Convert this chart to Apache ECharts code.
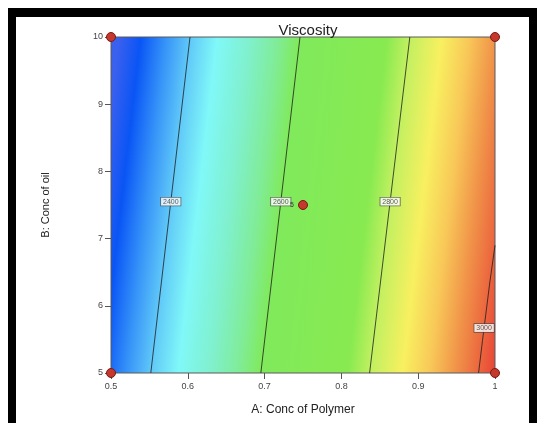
<!DOCTYPE html>
<html>
<head>
<meta charset="utf-8">
<script src="https://cdn.jsdelivr.net/npm/echarts@6/dist/echarts.min.js"></script>
<style>
  html, body { margin: 0; padding: 0; background: #fff; }
  #chart { width: 537px; height: 423px; }
</style>
</head>
<body>
<div id="chart"></div>
<script>
const levels = [2400, 2600, 2800, 3000]
const contourA = [
  [0.5518, 0.6029],
  [0.6951, 0.7461],
  [0.8367, 0.8891],
  [0.9786, 0.9837, 0.9935, 1.0],
]
const contourB = [
  [5, 10],
  [5, 10],
  [5, 10],
  [5, 5.48, 6.37, 6.9],
]
// B value where each contour label sits
const labelB = [7.55, 7.55, 7.55, 5.67]

// design points (corners + centre)
const designA = [0.5, 0.5, 1, 1, 0.75]
const designB = [5, 10, 5, 10, 7.5]
const centerReps = '5'

// colour ramp keyed by response value
const rampValues = [2270, 2310, 2355, 2400, 2450, 2510, 2560, 2600, 2760, 2800, 2860, 2910, 2960, 3030]
const rampColors = ['#3a60ee', '#0a55f5', '#3592f8', '#60c8f8', '#80f8f8', '#80f0cc', '#80ec98',
  '#80ea5c', '#88ea50', '#c0f060', '#f8f060', '#f8c858', '#f09048', '#e84436']

const FONT = 'Liberation Sans, Arial, sans-serif'

// A position on a contour for a given B (walk its polyline)
const aOnContour = (i, b) => {
  const as = contourA[i], bs = contourB[i]
  for (let k = 0; k < bs.length - 1; k++) {
    if (b >= bs[k] && b <= bs[k + 1]) {
      const t = (b - bs[k]) / (bs[k + 1] - bs[k])
      return as[k] + t * (as[k + 1] - as[k])
    }
  }
  return as[as.length - 1]
}

// background field: plot rect filled with a gradient running normal to the contours
const renderField = (params, api) => {
  const lo = api.coord([0.5, 5])
  const hi = api.coord([1, 10])
  const a = api.coord([contourA[0][0], contourB[0][0]])
  const b = api.coord([contourA[0][1], contourB[0][1]])
  let nx = a[1] - b[1]
  let ny = b[0] - a[0]
  const len = Math.hypot(nx, ny)
  nx /= len; ny /= len
  const proj = p => p[0] * nx + p[1] * ny
  const c = api.coord([contourA[2][0], contourB[2][0]])
  const sA = proj(a)
  const k = (proj(c) - sA) / (levels[2] - levels[0])
  const v0 = rampValues[0]
  const v1 = rampValues[rampValues.length - 1]
  const s0 = sA + (v0 - levels[0]) * k
  const s1 = sA + (v1 - levels[0]) * k
  const stops = rampValues.map((v, i) => ({ offset: (v - v0) / (v1 - v0), color: rampColors[i] }))
  return {
    type: 'rect',
    shape: { x: lo[0], y: hi[1], width: hi[0] - lo[0], height: lo[1] - hi[1] },
    style: {
      fill: new echarts.graphic.LinearGradient(nx * s0, ny * s0, nx * s1, ny * s1, stops, true),
      stroke: '#5a5a5a',
      lineWidth: 1,
    },
  }
}

const contourSeries = levels.map((lv, i) => ({
  type: 'line',
  name: String(lv),
  data: contourA[i].map((a, k) => [a, contourB[i][k]]),
  showSymbol: false,
  silent: true,
  lineStyle: { color: '#1e1e1e', width: 0.8 },
  z: 3,
}))

const chart = echarts.init(document.getElementById('chart'))
chart.setOption({
  animation: false,
  backgroundColor: '#fff',
  textStyle: { fontFamily: FONT },
  title: {
    text: 'Viscosity',
    left: 303,
    textAlign: 'center',
    top: 18,
    textStyle: { fontSize: 15, fontWeight: 'normal', color: '#222', fontFamily: FONT },
  },
  graphic: [
    { type: 'rect', shape: { x: 8, y: 8, width: 529, height: 9 }, style: { fill: '#000' } },
    { type: 'rect', shape: { x: 8, y: 8, width: 8, height: 415 }, style: { fill: '#000' } },
    { type: 'rect', shape: { x: 529, y: 8, width: 8, height: 415 }, style: { fill: '#000' } },
  ],
  grid: { left: 111, right: 42, top: 37, bottom: 50 },
  xAxis: {
    type: 'value',
    min: 0.5,
    max: 1,
    interval: 0.1,
    name: 'A: Conc of Polymer',
    nameLocation: 'middle',
    nameGap: 31,
    nameTextStyle: { fontSize: 12, color: '#222', fontFamily: FONT },
    axisLine: { show: false },
    axisTick: { show: true, length: 6, lineStyle: { color: '#555' } },
    axisLabel: {
      fontSize: 9, color: '#444', margin: 9, fontFamily: FONT,
      formatter: v => (v === 1 ? '1' : v.toFixed(1)),
    },
    splitLine: { show: false },
  },
  yAxis: {
    type: 'value',
    min: 5,
    max: 10,
    interval: 1,
    name: 'B: Conc of oil',
    nameLocation: 'middle',
    nameGap: 60,
    nameTextStyle: { fontSize: 11, color: '#222', fontFamily: FONT },
    axisLine: { show: false },
    axisTick: { show: true, length: 6, lineStyle: { color: '#555' } },
    axisLabel: { fontSize: 9, color: '#444', margin: 8, fontFamily: FONT },
    splitLine: { show: false },
  },
  series: [
    {
      type: 'custom',
      renderItem: renderField,
      data: [[0.75, 7.5]],
      silent: true,
      clip: false,
      z: 1,
    },
    ...contourSeries,
    {
      type: 'scatter',
      data: levels.map((lv, i) => [aOnContour(i, labelB[i]), labelB[i], lv]),
      symbolSize: 1,
      itemStyle: { color: 'rgba(0,0,0,0)' },
      silent: true,
      z: 4,
      label: {
        show: true,
        position: 'inside',
        formatter: p => String(p.value[2]),
        fontSize: 7,
        color: '#333',
        backgroundColor: '#fff',
        borderColor: '#444',
        borderWidth: 0.7,
        padding: [1, 2, 0, 2],
        fontFamily: FONT,
      },
    },
    {
      type: 'scatter',
      data: designA.map((a, i) => [a, designB[i]]),
      symbolSize: 9,
      itemStyle: { color: '#c4382e', borderColor: '#7a1a14', borderWidth: 1, opacity: 1 },
      silent: true,
      z: 5,
      label: {
        show: true,
        position: 'left',
        distance: 4,
        fontSize: 7,
        color: '#333',
        fontFamily: FONT,
        formatter: p => (p.dataIndex === designA.length - 1 ? centerReps : ''),
      },
    },
  ],
})
</script>
</body>
</html>
